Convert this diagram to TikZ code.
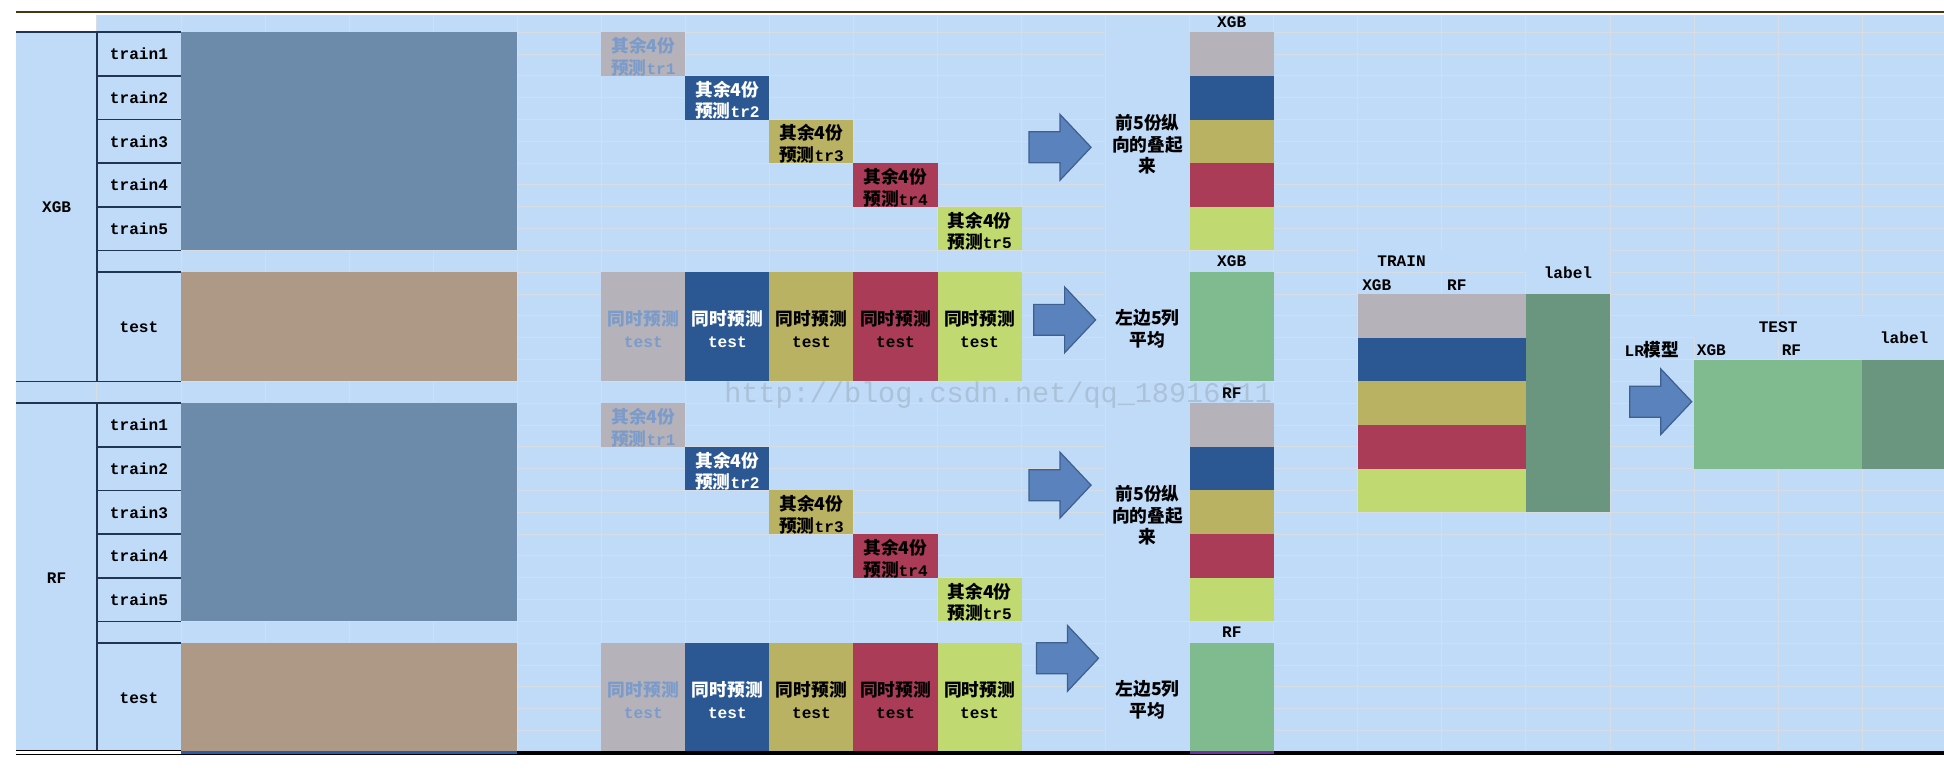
\documentclass[tikz,border=0pt]{standalone}
\usepackage{fontspec}
\setmainfont{Liberation Mono}
\newfontfamily\zh{Noto Sans CJK SC}[Scale=1.1]
\usepackage{tikz}

\definecolor{cellbg}{HTML}{BFDBF8}
\definecolor{gridln}{HTML}{D8DDE3}
\definecolor{border}{HTML}{1F3552}
\definecolor{trainblk}{HTML}{6C8AA9}
\definecolor{testblk}{HTML}{AE9986}
\definecolor{foldA}{HTML}{B5B3B9}
\definecolor{foldB}{HTML}{2B5893}
\definecolor{foldC}{HTML}{B9B263}
\definecolor{foldD}{HTML}{AB3C57}
\definecolor{foldE}{HTML}{C0D970}
\definecolor{avggreen}{HTML}{80BA8F}
\definecolor{labelgreen}{HTML}{6A9680}
\definecolor{arrowfill}{HTML}{5A82BD}
\definecolor{arrowline}{HTML}{3F5F8F}
\definecolor{paletext}{HTML}{7B9BCB}
\definecolor{toprule}{HTML}{4A3512}
\definecolor{baseblue}{HTML}{2C5BA6}
\definecolor{basepurple}{HTML}{7030A0}

\tikzset{
  txt/.style={font=\fontsize{13}{17.6}\selectfont\bfseries, inner sep=0pt, align=center},
  cover/.style={fill=cellbg},
  edge/.style={draw=border, line width=1.3pt},
  gridl/.style={draw=gridln, line width=0.8pt},
  bigarrow/.pic={
    \draw[draw=arrowline, fill=arrowfill, line width=1pt, line join=miter]
      (-50,-12.5) -- (-25,-12.5) -- (-25,-26.5) -- (0,0) -- (-25,26.5) -- (-25,12.5) -- (-50,12.5) -- cycle;
  }
}

\begin{document}
\begin{tikzpicture}[x=1pt,y=1pt,yscale=-1]
	\useasboundingbox (0,0) rectangle (1568,621);
	
	%Shape: sheet background
	\fill[cellbg] (13,26) rectangle (1568,607);
	\fill[cellbg] (78,12) rectangle (1568,26);
	%Straight Lines: top rule
	\draw[toprule, line width=1.8pt] (13,9.4) -- (1568,9.4);
	
	\begin{scope}[shift={(146,26)}, x=67.8pt, y=17.6pt]
		% cell grid
		\foreach \cc in {-1,...,20} \draw[gridl] (\cc,-0.8) -- (\cc,33);
		\foreach \kk in {0,...,32} \draw[gridl] (-1.96,\kk) -- (21,\kk);
		
		% one block per model
		\foreach \sid/\off/\lab in {x/0/XGB, r/17/RF} {
			%Shape: merged cells
			\fill[cover] (-1.96,\off) rectangle (-1,\off+16);
			\fill[cover] (-1,\off+11) rectangle (0,\off+16);
			\fill[cover] (11,\off) rectangle (12,\off+10);
			\fill[cover] (11,\off+11) rectangle (12,\off+16);
			%Shape: data blocks
			\fill[trainblk] (0,\off) rectangle (4,\off+10);
			\fill[testblk] (0,\off+11) rectangle (4,\off+16);
			\fill[avggreen] (12,\off+11) rectangle (13,\off+16);
			
			\foreach \ii/\fc/\tc in {1/foldA/paletext, 2/foldB/white, 3/foldC/black, 4/foldD/black, 5/foldE/black} {
				\fill[cover] (-1,{\off+2*\ii-2}) rectangle (0,{\off+2*\ii});
				\fill[\fc] ({4+\ii},{\off+2*\ii-2}) rectangle ({5+\ii},{\off+2*\ii});
				\fill[\fc] ({4+\ii},\off+11) rectangle ({5+\ii},\off+16);
				\fill[\fc] (12,{\off+2*\ii-2}) rectangle (13,{\off+2*\ii});
				% Text Node
				\node[txt] (\sid-train\ii) at (-0.5,{\off+2*\ii-1}) {train\ii};
				% Text Node
				\node[txt, text=\tc] (\sid-fold\ii) at ({4.5+\ii},{\off+2*\ii-1+0.12}) {{\zh 其余4份}\\{\zh 预测}tr\ii};
				% Text Node
				\node[txt, text=\tc] (\sid-pred\ii) at ({4.5+\ii},\off+13.6) {{\zh 同时预测}\\test};
			}
			
			%Straight Lines: label borders
			\draw[edge] (-1.96,\off) -- (0,\off);
			\draw[edge] (-1.96,\off+16) -- (0,\off+16);
			\draw[edge] (-1,\off) -- (-1,\off+16);
			\foreach \kk in {2,4,6,8,10,11} \draw[edge] (-1,\off+\kk) -- (0,\off+\kk);
			
			% Text Node
			\node[txt] (\sid-model) at (-1.48,\off+8) {\lab};
			% Text Node
			\node[txt] (\sid-test) at (-0.5,\off+13.5) {test};
			% Text Node
			\node[txt] (\sid-stackhd) at (12.5,\off-0.45) {\lab};
			% Text Node
			\node[txt] (\sid-avghd) at (12.5,\off+10.5) {\lab};
			% Text Node
			\node[txt] (\sid-stacknote) at (11.5,\off+5.14) {{\zh 前5份纵}\\{\zh 向的叠起}\\{\zh 来}};
			% Text Node
			\node[txt] (\sid-avgnote) at (11.5,\off+13.6) {{\zh 左边5列}\\{\zh 平均}};
		}
		
		%Shape: second level train set
		\foreach \ii/\fc in {1/foldA, 2/foldB, 3/foldC, 4/foldD, 5/foldE}
			\fill[\fc] (14,{10+2*\ii}) rectangle (16,{12+2*\ii});
		\fill[labelgreen] (16,12) rectangle (17,22);
		\fill[cover] (14,10) rectangle (16,11);
		\fill[cover] (16,10) rectangle (17,12);
		%Shape: second level test set
		\fill[avggreen] (18,15) rectangle (20,20);
		\fill[labelgreen] (20,15) rectangle (21,20);
		\fill[cover] (18,13) rectangle (20,14);
		\fill[cover] (20,13) rectangle (21,15);
		
		% Text Node
		\node[txt] (trainhd) at (14.52,10.5) {TRAIN};
		% Text Node
		\node[txt, anchor=west] (trainxgb) at (14.05,11.58) {XGB};
		% Text Node
		\node[txt, anchor=west] (trainrf) at (15.06,11.58) {RF};
		% Text Node
		\node[txt] (trainlabel) at (16.5,11) {label};
		% Text Node
		\node[txt] (lrmodel) at (17.5,14.57) {LR{\zh 模型}};
		% Text Node
		\node[txt] (testhd) at (19,13.5) {TEST};
		% Text Node
		\node[txt, anchor=west] (testxgb) at (18.03,14.57) {XGB};
		% Text Node
		\node[txt, anchor=west] (testrf) at (19.04,14.57) {RF};
		% Text Node
		\node[txt] (testlabel) at (20.5,14) {label};
	\end{scope}
	
	%Shape: block arrows
	\pic (xstackarrow) at (880,118.8) {bigarrow};
	\pic (xavgarrow) at (883.7,258) {bigarrow};
	\pic (rstackarrow) at (880,391.3) {bigarrow};
	\pic (ravgarrow) at (886,531) {bigarrow};
	\pic (lrarrow) at (1364.5,324) {bigarrow};
	
	% Text Node
	\node[font=\fontsize{23}{23}\selectfont, text=black!60, text opacity=0.22, inner sep=0pt] (watermark) at (805,318.6) {http://blog.csdn.net/qq\_18916311};
	
	%Straight Lines: bottom rules
	\fill[white] (13,605) rectangle (146,609.2);
	\draw[black, line width=0.9pt] (13,605.6) -- (146,605.6);
	\draw[black, line width=0.9pt] (13,608.4) -- (146,608.4);
	\draw[black, line width=3pt] (146,607.3) -- (1568,607.3);
	\draw[baseblue, line width=2.2pt] (146,607) -- (417,607);
	\draw[basepurple, line width=2.2pt] (960,607) -- (1027.4,607);
\end{tikzpicture}
\end{document}
